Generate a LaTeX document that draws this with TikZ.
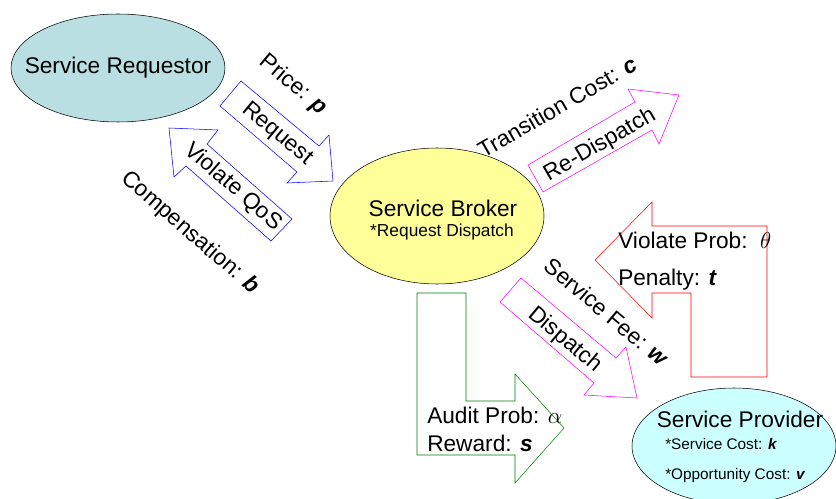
\documentclass[tikz,border=0pt]{standalone}
\usepackage{fontspec}
\setmainfont{Liberation Sans}
\usetikzlibrary{shapes.geometric}
\definecolor{reqfill}{HTML}{B9DFE3}
\definecolor{brkfill}{HTML}{FFFF99}
\definecolor{prvfill}{HTML}{CCFFFF}
\definecolor{audgreen}{HTML}{008000}
\definecolor{dispmag}{HTML}{FF00FF}
\definecolor{qosblue}{HTML}{0000FF}
\definecolor{penred}{HTML}{FF0000}
\newcommand{\bv}[1]{\textbf{\textit{#1}}}
\tikzset{
  actor/.style={draw=black,ellipse,inner sep=0pt},
  lbl/.style={font=\fontsize{17}{20}\selectfont,inner sep=0pt},
  sublbl/.style={font=\fontsize{13}{15}\selectfont,inner sep=0pt},
  smalllbl/.style={font=\fontsize{11.5}{13}\selectfont,inner sep=0pt,anchor=west}
}
\begin{document}
\begin{tikzpicture}[x=0.75pt,y=-0.75pt]
  \useasboundingbox (0,0) rectangle (836,499);
  % parties
  \node[actor,fill=reqfill,minimum width=160.5pt,minimum height=81pt] (req) at (118,68) {};
  \node[lbl] (reqtxt) at (118,68) {Service Requestor};
  \node[actor,fill=brkfill,minimum width=160.5pt,minimum height=102pt] (brk) at (437,216) {};
  \node[lbl] (brktxt) at (443,208) {Service Broker};
  \node[sublbl] (brksub) at (442,232) {*Request Dispatch};
  \node[actor,fill=prvfill,minimum width=153pt,minimum height=87pt] (prv) at (734,446) {};
  \node[lbl] (prvtxt) at (740,419) {Service Provider};
  \node[smalllbl] (prvcost) at (665,444) {*Service Cost: \bv{k}};
  \node[smalllbl] (prvopp) at (665,476) {*Opportunity Cost: \bv{v}};
  % requestor <-> broker
  \draw[qosblue] (220,106) -- (241,81) -- (319,146) -- (329,135) -- (333,181) -- (287,183) -- (297,172) -- cycle;
  \node[lbl,rotate=-40] (request) at (277,134) {Request};
  \node[lbl,rotate=-40] (price) at (293,85) {Price: \bv{p}};
  \draw[qosblue] (169,128) -- (218,130) -- (207,144) -- (292,219) -- (271,241) -- (186,166) -- (174,177) -- cycle;
  \node[lbl,rotate=-41] (violqos) at (233,187) {Violate QoS};
  \node[lbl,rotate=-41] (comp) at (190,233) {Compensation: \bv{b}};
  % re-dispatch
  \draw[dispmag] (543,192) -- (528,165) -- (635,102) -- (628,89) -- (679,95) -- (659,144) -- (652,130) -- cycle;
  \node[lbl,rotate=30] (redisp) at (600,145) {Re-Dispatch};
  \node[lbl,rotate=30] (trans) at (557,107) {Transition Cost: \bv{c}};
  % dispatch
  \draw[dispmag] (521,278) -- (500,302) -- (594,383) -- (584,395) -- (637,398) -- (626,347) -- (616,358) -- cycle;
  \node[lbl,rotate=-40] (disp) at (565,340) {Dispatch};
  \node[lbl,rotate=-40] (fee) at (607,312) {Service Fee: \bv{w}};
  % audit
  \draw[audgreen] (417,293) -- (466,293) -- (466,401) -- (515,401) -- (515,374) -- (564,428) -- (515,483) -- (515,455) -- (417,455) -- cycle;
  \node[lbl,anchor=west] (audit) at (427,415) {Audit Prob: $\alpha$};
  \node[lbl,anchor=west] (reward) at (427,443) {Reward: \bv{s}};
  % penalty
  \draw[penred] (595,260) -- (652,202) -- (652,226) -- (767,226) -- (767,377) -- (691,377) -- (691,293) -- (652,293) -- (652,318) -- cycle;
  \node[lbl,anchor=west] (violprob) at (618,240) {Violate Prob:\ \ $\theta$};
  \node[lbl,anchor=west] (penalty) at (618,280) {Penalty: \bv{t}};
\end{tikzpicture}
\end{document}
